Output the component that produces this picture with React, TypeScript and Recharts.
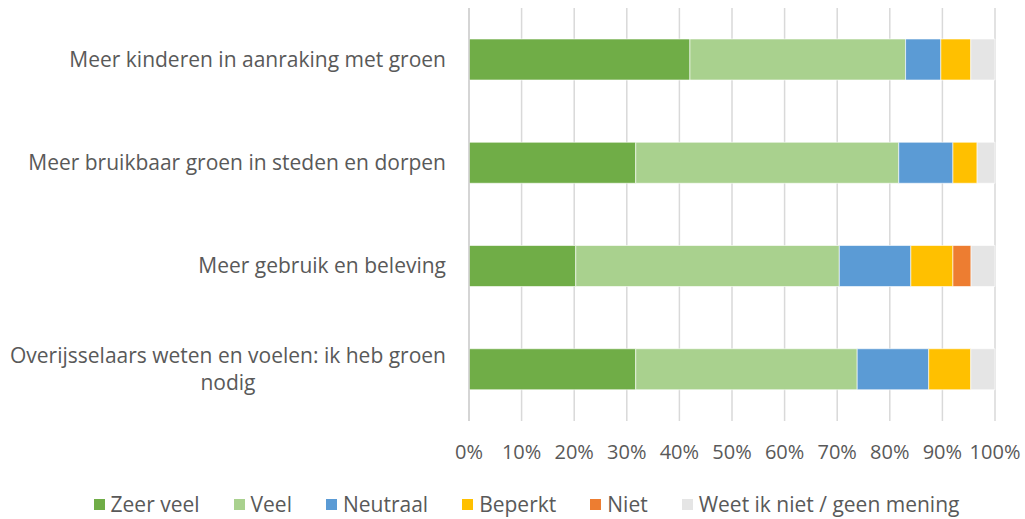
import React from "react";
import { BarChart, Bar, XAxis, YAxis, CartesianGrid, Legend } from "recharts";

const categories = [
  "Meer kinderen in aanraking met groen",
  "Meer bruikbaar groen in steden en dorpen",
  "Meer gebruik en beleving",
  "Overijsselaars weten en voelen: ik heb groen nodig",
];
const zeerVeel = [42.0, 31.7, 20.3, 31.7];
const veel = [41.0, 50.0, 50.1, 42.1];
const neutraal = [6.7, 10.3, 13.6, 13.6];
const beperkt = [5.7, 4.6, 8.0, 8.0];
const niet = [0, 0, 3.45, 0];
const weetNiet = [4.6, 3.4, 4.55, 4.6];
const xTicks = [0, 10, 20, 30, 40, 50, 60, 70, 80, 90, 100];

const seriesNames = ["Zeer veel", "Veel", "Neutraal", "Beperkt", "Niet", "Weet ik niet / geen mening"];
const seriesKeys = ["zeerVeel", "veel", "neutraal", "beperkt", "niet", "weetNiet"];
const colors = ["#70AD47", "#A9D18E", "#5B9BD5", "#FFC000", "#ED7D31", "#E5E5E5"];

const data = categories.map((name, i) => ({
  name,
  zeerVeel: zeerVeel[i],
  veel: veel[i],
  neutraal: neutraal[i],
  beperkt: beperkt[i],
  niet: niet[i],
  weetNiet: weetNiet[i],
}));

const FONT = "'Open Sans', sans-serif";
const FONT_SIZE = 21;
const TICK_SIZE = 20;
const TEXT = "#595959";

let canvasCtx: CanvasRenderingContext2D | null = null;
function measure(t: string): number {
  if (!canvasCtx) {
    const c = document.createElement("canvas");
    canvasCtx = c.getContext("2d");
  }
  if (!canvasCtx) return t.length * 11;
  canvasCtx.font = `${FONT_SIZE}px 'Open Sans'`;
  return canvasCtx.measureText(t).width;
}

function wrap(label: string, maxW: number): string[] {
  const words = label.split(" ");
  const lines: string[] = [];
  let cur = "";
  for (const w of words) {
    const test = cur ? cur + " " + w : w;
    if (measure(test) > maxW && cur) {
      lines.push(cur);
      cur = w;
    } else cur = test;
  }
  if (cur) lines.push(cur);
  return lines;
}

const YTick = (props: any) => {
  const { x, y, payload } = props;
  const lines = wrap(String(payload.value), 450);
  const lh = 27;
  if (lines.length === 1) {
    return (
      <text x={x} y={y} dy="0.35em" textAnchor="end" fill={TEXT} fontSize={FONT_SIZE} fontFamily={FONT}>
        {lines[0]}
      </text>
    );
  }
  const w = Math.max(...lines.map(measure));
  const cx = x - w / 2;
  const startY = y - ((lines.length - 1) * lh) / 2;
  return (
    <text textAnchor="middle" fill={TEXT} fontSize={FONT_SIZE} fontFamily={FONT}>
      {lines.map((l, i) => (
        <tspan key={i} x={cx} y={startY + i * lh} dy="0.35em">
          {l}
        </tspan>
      ))}
    </text>
  );
};

const LegendContent = () => (
  <div
    style={{
      display: "flex",
      justifyContent: "center",
      alignItems: "center",
      height: 38,
      paddingTop: 8,
      paddingLeft: 50,
      boxSizing: "border-box",
      fontFamily: FONT,
      fontSize: FONT_SIZE,
      color: TEXT,
    }}
  >
    {seriesNames.map((n, i) => (
      <div key={n} style={{ display: "flex", alignItems: "center", marginRight: i < seriesNames.length - 1 ? 34 : 0 }}>
        <span style={{ width: 11, height: 11, background: colors[i], display: "inline-block", marginRight: 6 }} />
        <span>{n}</span>
      </div>
    ))}
  </div>
);

export default function App() {
  return (
    <div style={{ position: "absolute", left: 0, top: 0, width: 1025, height: 519, background: "#fff" }}>
      <BarChart
        width={1025}
        height={519}
        data={data}
        layout="vertical"
        margin={{ top: 8, right: 30, bottom: 0, left: 8 }}
        barSize={41}
      >
        <CartesianGrid horizontal={false} stroke="#D9D9D9" strokeWidth={1.5} />
        <XAxis
          type="number"
          domain={[0, 100]}
          ticks={xTicks}
          tickFormatter={(v: number) => `${v}%`}
          axisLine={false}
          tickLine={false}
          tickSize={0}
          tickMargin={24}
          height={60}
          interval={0}
          tick={{ fill: TEXT, fontSize: TICK_SIZE, fontFamily: FONT }}
        />
        <YAxis
          type="category"
          dataKey="name"
          width={461}
          axisLine={{ stroke: "#D0D0D0", strokeWidth: 1.5 }}
          tickLine={false}
          tickSize={0}
          tickMargin={23}
          tick={<YTick />}
          interval={0}
        />
        <Legend verticalAlign="bottom" height={38} content={<LegendContent />} />
        {seriesKeys.map((k, i) => (
          <Bar
            key={k}
            dataKey={k}
            name={seriesNames[i]}
            stackId="a"
            fill={colors[i]}
            stroke="#ffffff"
            strokeWidth={0.6}
            isAnimationActive={false}
          />
        ))}
      </BarChart>
    </div>
  );
}
